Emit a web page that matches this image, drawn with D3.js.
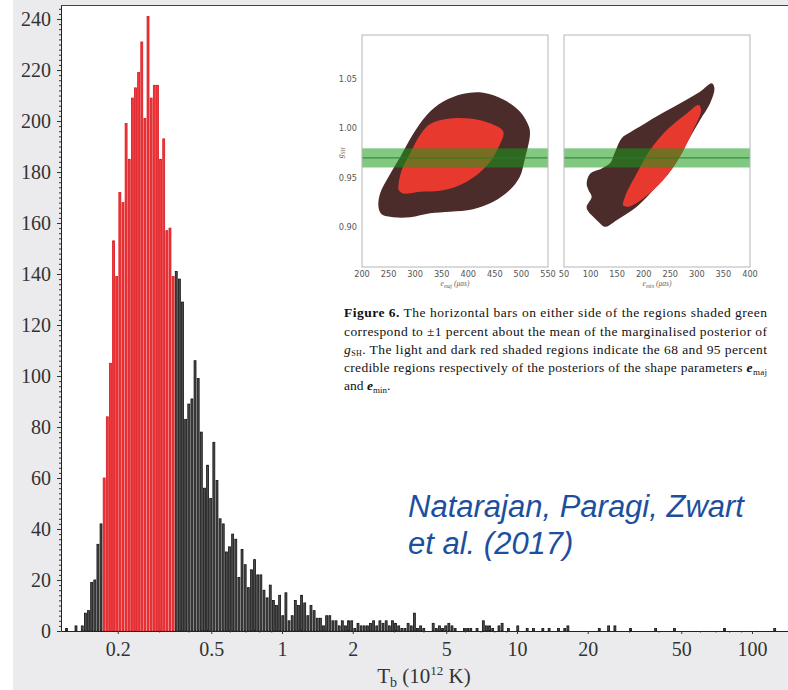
<!DOCTYPE html>
<html><head><meta charset="utf-8">
<script src="https://cdn.jsdelivr.net/npm/d3@7"></script>
<style>body{margin:0;background:#fff}svg{display:block}</style>
</head><body>
<svg id="chart" width="788" height="690"></svg>
<script>
// ---- main histogram: brightness temperature, log-spaced bins ----
const binStart = 0.1193;        // lower edge of the first bin (10^12 K)
const binsPerDecade = 75;
const counts = [
  1,0,0,2,0,2,7,8,19,20,34,42,60,84,105,153,139,172,168,199,
  185,209,213,219,231,201,241,209,214,214,185,193,157,158,139,141,138,129,83,89,
  91,106,99,78,56,65,52,74,59,44,42,31,33,38,36,21,32,26,17,24,
  28,22,22,16,13,18,12,10,14,6,15,4,6,12,10,14,11,6,10,8,
  5,5,2,6,6,4,4,2,4,2,4,4,1,3,2,2,2,3,4,2,
  4,3,4,2,4,3,2,1,1,3,2,7,1,2,1,0,0,3,1,2,
  1,2,3,2,1,0,0,1,1,1,0,1,0,4,2,2,1,0,2,3,
  0,1,0,0,2,0,0,1,0,1,0,0,1,0,1,0,0,1,0,1,
  2,0,0,0,0,0,0,0,0,0,1,0,0,2,0,2,0,0,0,0,
  1,0,0,0,0,0,0,0,1,0,0,0,0,0,1,0,0,0,0,0,
  0,0,0,0,0,0,0,0,0,0,1,0,0,0,0,0,0,0,0,0,
  0,0,0,0,0,0,1
];
const highlightRange = [0.172, 0.349];   // interval drawn in red
const xTickValues = [0.2, 0.5, 1, 2, 5, 10, 20, 50, 100];
const xTickLabels = ["0.2", "0.5", "1", "2", "5", "10", "20", "50", "100"];
const yTickValues = [0, 20, 40, 60, 80, 100, 120, 140, 160, 180, 200, 220, 240];

// ---- inset: posterior contours of g_SH against e_maj / e_min ----
const gMean = 0.970;
const gBand = [0.9603, 0.9797];
const gTicks = [0.90, 0.95, 1.00, 1.05];
const gTickLabels = ["0.90", "0.95", "1.00", "1.05"];
const majTicks = [200, 250, 300, 350, 400, 450, 500, 550];
const minTicks = [50, 100, 150, 200, 250, 300, 350, 400];
const majOuter = [[231,0.9206],[234,0.934],[250,0.951],[272,0.971],[297,0.995],[322,1.0135],[353,1.027],
  [391,1.035],[428,1.036],[466,1.029],[497,1.017],[514,1.0017],[516,0.993],[506,0.968],[497,0.951],
  [478,0.9375],[447,0.9256],[409,0.918],[366,0.9155],[328,0.914],[291,0.910],[259,0.910],[237,0.913]];
const majInner = [[269,0.944],[275,0.958],[291,0.975],[309,0.993],[328,1.0044],[359,1.0095],[403,1.010],
  [441,1.005],[466,0.9966],[456,0.980],[441,0.966],[416,0.9527],[378,0.941],[347,0.9368],[309,0.9358],
  [278,0.934],[269,0.9375]];
const minOuter = [[92.6,0.944],[99,0.954],[121,0.9594],[136.5,0.9645],[146,0.976],[158.5,0.990],[174,0.9956],
  [193,1.0017],[224,1.0118],[268,1.025],[306,1.037],[328,1.0456],[333,1.0406],[325,1.0254],[306,1.0085],
  [281,0.985],[256,0.961],[224,0.941],[187,0.9206],[149,0.907],[127,0.9003],[114.6,0.9054],[105,0.9104],
  [96,0.9155],[92.6,0.9206],[102,0.9307],[96,0.9375]];
const minInner = [[161.6,0.922],[165,0.931],[187,0.9544],[212,0.978],[243,0.998],[281,1.015],[303,1.0236],
  [308,1.0186],[293,0.998],[268,0.971],[237,0.9477],[199,0.929],[171,0.9206]];

const svg = d3.select("#chart");
const serif = "'Liberation Serif', 'Times New Roman', serif";
const sans = "'DejaVu Sans', 'Liberation Sans', sans-serif";

// page background
svg.append("rect").attr("x", 13).attr("y", 0).attr("width", 775).attr("height", 690).attr("fill", "#ebebed");
svg.append("rect").attr("x", 61).attr("y", 5).attr("width", 727).attr("height", 626).attr("fill", "#ffffff");

const x = d3.scaleLog().domain([0.1147, 142.3]).range([61, 788]);
const y = d3.scaleLinear().domain([0, 245.5]).range([631, 5]);

// histogram bins
const bins = counts.map((c, i) => ({
  lo: binStart * Math.pow(10, i / binsPerDecade),
  hi: binStart * Math.pow(10, (i + 1) / binsPerDecade),
  count: c
})).filter(d => d.count > 0);

const isRed = d => {
  const mid = Math.sqrt(d.lo * d.hi);
  return mid >= highlightRange[0] && mid <= highlightRange[1];
};

svg.append("g").selectAll("rect").data(bins).join("rect")
  .attr("x", d => x(d.lo) + 0.6)
  .attr("width", d => Math.max(0.4, x(d.hi) - x(d.lo) - 1.2))
  .attr("y", d => y(d.count))
  .attr("height", d => y(0) - y(d.count))
  .attr("fill", d => isRed(d) ? "#f23a3d" : "#4d4d4d")
  .attr("stroke", d => isRed(d) ? "#d9161c" : "#111111")
  .attr("stroke-width", 0.8);

// axes
const yAxis = svg.append("g").attr("transform", "translate(61,0)")
  .call(d3.axisLeft(y).tickValues(yTickValues).tickSize(4).tickSizeOuter(0).tickPadding(6));
svg.append("g").attr("transform", "translate(61,0)")
  .call(d3.axisLeft(y).tickValues(d3.range(0, 246, 2)).tickSize(2).tickFormat(""))
  .call(g => g.select(".domain").remove());
yAxis.selectAll("text").attr("font-family", serif).attr("font-size", 20).attr("fill", "#333");

const minorX = [];
[0.1, 1, 10, 100].forEach(dec => d3.range(1, 10).forEach(m => {
  const v = m * dec;
  if (v > 0.1147 && v < 142.3 && !xTickValues.includes(+v.toPrecision(3))) minorX.push(v);
}));
const xAxis = svg.append("g").attr("transform", "translate(0,631)")
  .call(d3.axisBottom(x).tickValues(xTickValues).tickSize(3).tickSizeOuter(0).tickPadding(8)
    .tickFormat((d, i) => xTickLabels[i]));
svg.append("g").attr("transform", "translate(0,631)")
  .call(d3.axisBottom(x).tickValues(minorX).tickSize(1.5).tickFormat(""))
  .call(g => g.select(".domain").remove());
xAxis.selectAll("text").attr("font-family", serif).attr("font-size", 20).attr("fill", "#333");
svg.selectAll(".domain").attr("stroke", "#222");
svg.selectAll(".tick line").attr("stroke", "#333");

// top frame line
svg.append("line").attr("x1", 61).attr("x2", 788).attr("y1", 5.5).attr("y2", 5.5)
  .attr("stroke", "#444").attr("stroke-width", 1.2);

// x-axis title
const xt = svg.append("text").attr("x", 424).attr("y", 683).attr("text-anchor", "middle")
  .attr("font-family", serif).attr("font-size", 21).attr("fill", "#333");
xt.append("tspan").text("T");
xt.append("tspan").attr("font-size", 14).attr("dy", 4).text("b");
xt.append("tspan").attr("dy", -4).text(" (10");
xt.append("tspan").attr("font-size", 13).attr("dy", -8).text("12");
xt.append("tspan").attr("dy", 8).text(" K)");

// ---- inset panels ----
const gy = d3.scaleLinear().domain([0.8596, 1.0944]).range([267, 35]);
const panels = [
  { x: d3.scaleLinear().domain([200, 550]).range([362, 548]), ticks: majTicks, outer: majOuter, inner: majInner, sub: "maj", showY: true },
  { x: d3.scaleLinear().domain([50, 400]).range([564, 750]), ticks: minTicks, outer: minOuter, inner: minInner, sub: "min", showY: false }
];

panels.forEach(p => {
  const g = svg.append("g");
  const [x0, x1] = p.x.range();
  const shape = d3.line().x(d => p.x(d[0])).y(d => gy(d[1])).curve(d3.curveCatmullRomClosed.alpha(0.5));
  g.append("path").attr("d", shape(p.outer)).attr("fill", "#4b2c2a");
  g.append("path").attr("d", shape(p.inner)).attr("fill", "#e8392f");
  g.append("rect").attr("x", x0).attr("width", x1 - x0)
    .attr("y", gy(gBand[1])).attr("height", gy(gBand[0]) - gy(gBand[1]))
    .attr("fill", "#1a9a1a").attr("fill-opacity", 0.55);
  g.append("line").attr("x1", x0).attr("x2", x1).attr("y1", gy(gMean)).attr("y2", gy(gMean))
    .attr("stroke", "#2a7d2a").attr("stroke-width", 1);
  g.append("rect").attr("x", x0).attr("y", 35).attr("width", x1 - x0).attr("height", 232)
    .attr("fill", "none").attr("stroke", "#b5b5b5").attr("stroke-width", 1);
  g.selectAll(".xl").data(p.ticks).join("text")
    .attr("x", d => p.x(d)).attr("y", 276.5).attr("text-anchor", "middle")
    .attr("font-family", sans).attr("font-size", 8.2).attr("fill", "#555").text(d => d);
  const lab = g.append("text").attr("x", (x0 + x1) / 2).attr("y", 286).attr("text-anchor", "middle")
    .attr("font-family", serif).attr("font-size", 7.5).attr("fill", "#666").attr("font-style", "italic");
  lab.append("tspan").text("e");
  lab.append("tspan").attr("font-size", 5.5).attr("dy", 1.5).text(p.sub);
  lab.append("tspan").attr("dy", -1.5).text(" (μas)");
  if (p.showY) {
    g.selectAll(".yl").data(gTicks).join("text")
      .attr("x", 357).attr("y", d => gy(d) + 3).attr("text-anchor", "end")
      .attr("font-family", sans).attr("font-size", 8.2).attr("fill", "#555")
      .text((d, i) => gTickLabels[i]);
    const yl = g.append("text").attr("transform", "translate(343,153) rotate(-90)")
      .attr("text-anchor", "middle").attr("font-family", serif).attr("font-size", 8)
      .attr("font-style", "italic").attr("fill", "#666");
    yl.append("tspan").text("g");
    yl.append("tspan").attr("font-size", 5.5).attr("dy", 1.5).text("SH");
  }
});

// caption
const capX = 344, capW = 423, capFs = 13.5;
const capLine = (yy, justify) => {
  const t = svg.append("text").attr("x", capX).attr("y", yy)
    .attr("font-family", serif).attr("font-size", capFs).attr("fill", "#111");
  if (justify) t.attr("textLength", capW).attr("lengthAdjust", "spacing");
  return t;
};
let t1 = capLine(317, true);
t1.append("tspan").attr("font-weight", "bold").text("Figure 6.");
t1.append("tspan").text(" The horizontal bars on either side of the regions shaded green");
capLine(335.5, true).text("correspond to ±1 percent about the mean of the marginalised posterior of");
let t3 = capLine(354, true);
t3.append("tspan").attr("font-style", "italic").text("g");
t3.append("tspan").attr("font-size", 8).attr("dy", 2).text("SH");
t3.append("tspan").attr("dy", -2).text(". The light and dark red shaded regions indicate the 68 and 95 percent");
let t4 = capLine(372.3, true);
t4.append("tspan").text("credible regions respectively of the posteriors of the shape parameters ");
t4.append("tspan").attr("font-style", "italic").attr("font-weight", "bold").text("e");
t4.append("tspan").attr("font-size", 9).attr("dy", 3).text("maj");
let t5 = capLine(390, false);
t5.append("tspan").text("and ");
t5.append("tspan").attr("font-style", "italic").attr("font-weight", "bold").text("e");
t5.append("tspan").attr("font-size", 9).attr("dy", 3).text("min");
t5.append("tspan").attr("dy", -3).text(".");

// citation
const cite = svg.append("g").attr("font-family", "'Liberation Sans', Arial, sans-serif")
  .attr("font-style", "italic").attr("font-size", 31).attr("fill", "#1d4f9e");
cite.append("text").attr("x", 408).attr("y", 517).text("Natarajan, Paragi, Zwart");
cite.append("text").attr("x", 408).attr("y", 554).text("et al. (2017)");
</script>
</body></html>
